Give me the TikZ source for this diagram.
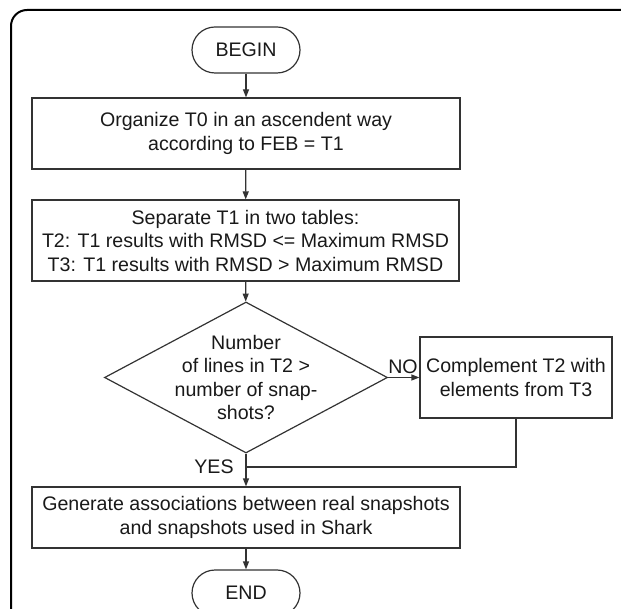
\documentclass[tikz,border=0pt]{standalone}
\usepackage{fontspec}
\setmainfont{Liberation Sans}
\usetikzlibrary{shapes.geometric,arrows.meta}
\newcommand{\flowfont}{\fontsize{19.6}{23.5}\selectfont}
\tikzset{mybox/.style={draw=black!80,line width=1.2pt,inner sep=0pt,align=center,text=black!90,font=\flowfont}}
\tikzset{myterm/.style={mybox,rounded corners=23pt,minimum width=108pt,minimum height=46pt}}
\tikzset{mydec/.style={draw=black!80,line width=1.2pt,diamond,inner sep=0pt,minimum width=283pt,minimum height=151pt}}
\tikzset{mytext/.style={inner sep=0pt,align=center,text=black!90,font=\flowfont}}
\tikzset{myline/.style={draw=black!80,line width=1.2pt}}
\tikzset{myarrow/.style={myline,-{Triangle[length=8pt,width=6pt]}}}

\begin{document}
\begin{tikzpicture}[x=1pt,y=-1pt]
	\useasboundingbox (0,0) rectangle (621,609);
	\clip (0,0) rectangle (621,609);

	% outer frame, cut by the page on the right and at the bottom
	\draw[line width=2pt,rounded corners=16pt] (11,10) rectangle (680,680);

	% steps
	\node[myterm] (begin) at (246,50) {BEGIN};
	\node[mybox,minimum width=428pt,minimum height=71pt] (org) at (246,133.5) {Organize T0 in an ascendent way\\according to FEB = T1};
	\node[mybox,minimum width=427pt,minimum height=81pt] (sep) at (245.5,240.5) {Separate T1 in two tables:\\T2: T1 results with RMSD <= Maximum RMSD\\T3: T1 results with RMSD > Maximum RMSD};
	\node[mydec] (dec) at (246,377.5) {};
	\node[mytext] (dectext) at (dec.center) {Number\\of lines in T2 >\\number of snap-\\shots?};
	\node[mybox,minimum width=192pt,minimum height=81pt] (comp) at (516,377.5) {Complement T2 with\\elements from T3};
	\node[mybox,minimum width=428pt,minimum height=61pt] (gen) at (246,517.5) {Generate associations between real snapshots\\and snapshots used in Shark};
	\node[myterm] (end) at (246,593) {END};

	% answers
	\coordinate (join) at (246,467);
	\node[mytext,anchor=south] (no) at (403,374) {NO};
	\node[mytext] (yes) at (214,467) {YES};

	% connectors
	\draw[myarrow] (begin) -- (org);
	\draw[myarrow] (org) -- (sep);
	\draw[myarrow] (sep) -- (dec);
	\draw[myarrow] (dec.east) -- (comp.west);
	\draw[myarrow] (dec.south) -- (gen.north);
	\draw[myline] (comp.south) |- (join);
	\draw[myarrow] (gen) -- (end);
\end{tikzpicture}
\end{document}
